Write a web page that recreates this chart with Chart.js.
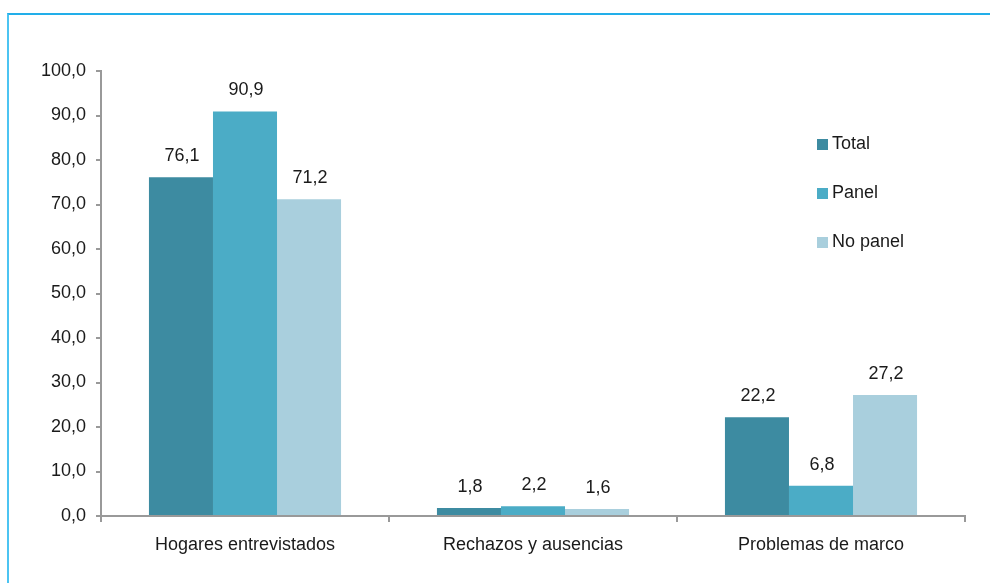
<!DOCTYPE html>
<html>
<head>
<meta charset="utf-8">
<script src="https://cdn.jsdelivr.net/npm/chart.js@4"></script>
<style>
  html, body { margin: 0; padding: 0; background: #fff; }
  #wrap { position: relative; width: 990px; height: 583px; overflow: hidden; }
  #frame {
    position: absolute; left: 7px; top: 13px; width: 1000px; height: 600px;
    border-top: 2px solid #22aee9; border-left: 2px solid #4cc4f2;
    box-sizing: border-box;
  }
  #chart { position: absolute; left: 0; top: 0; }
  #legend {
    position: absolute; left: 817px; top: 133px;
    font-family: 'Liberation Sans Narrow', 'Arial Narrow', 'Liberation Sans', sans-serif;
    font-size: 18px; color: #1a1a1a;
  }
  #legend div { height: 49px; display: flex; align-items: flex-start; }
  #legend span.box { width: 11px; height: 11px; margin: 6px 4px 0 0; }
</style>
</head>
<body>
<div id="wrap">
  <div id="frame"></div>
  <canvas id="chart" width="990" height="583"></canvas>
  <div id="legend"></div>
</div>
<script>
const categories = ['Hogares entrevistados', 'Rechazos y ausencias', 'Problemas de marco'];
const seriesNames = ['Total', 'Panel', 'No panel'];
const totalValues = [76.1, 1.8, 22.2];
const panelValues = [90.9, 2.2, 6.8];
const noPanelValues = [71.2, 1.6, 27.2];
const colors = ['#3d8ba1', '#4bacc6', '#a9cfdd'];

const FONT = "'Liberation Sans Narrow', 'Arial Narrow', 'Liberation Sans', sans-serif";

function fmt(v) {
    return v.toFixed(1).replace('.', ',');
}

// value labels above each bar
const valueLabels = {
    id: 'valueLabels',
    afterDatasetsDraw(chart) {
        const ctx = chart.ctx;
        ctx.save();
        ctx.font = '18px ' + FONT;
        ctx.fillStyle = '#1a1a1a';
        ctx.textAlign = 'center';
        ctx.textBaseline = 'bottom';
        chart.data.datasets.forEach((ds, i) => {
            chart.getDatasetMeta(i).data.forEach((bar, j) => {
                ctx.fillText(fmt(ds.data[j]), bar.x + 1, bar.y - 12);
            });
        });
        ctx.restore();
    }
};

const chart = new Chart(document.getElementById('chart'), {
    type: 'bar',
    data: {
        labels: categories,
        datasets: [
            { label: seriesNames[0], data: totalValues, backgroundColor: colors[0] },
            { label: seriesNames[1], data: panelValues, backgroundColor: colors[1] },
            { label: seriesNames[2], data: noPanelValues, backgroundColor: colors[2] }
        ]
    },
    options: {
        responsive: false,
        animation: false,
        layout: { padding: { top: 71, right: 25, left: 0, bottom: 0 } },
        datasets: { bar: { categoryPercentage: 0.667, barPercentage: 1.0 } },
        plugins: { legend: { display: false }, tooltip: { enabled: false } },
        scales: {
            x: {
                grid: { offset: true, drawOnChartArea: false, drawTicks: true, tickLength: 6, color: '#999', lineWidth: 2 },
                border: { color: '#999', width: 2 },
                ticks: { font: { family: FONT, size: 18 }, color: '#1a1a1a', padding: 12 },
                afterFit: s => { s.height = 67; }
            },
            y: {
                min: 0, max: 100,
                grid: { drawOnChartArea: false, drawTicks: true, tickLength: 5, color: '#999', lineWidth: 2 },
                border: { color: '#999', width: 2 },
                ticks: { stepSize: 10, font: { family: FONT, size: 18 }, color: '#1a1a1a', padding: 10,
                         callback: v => fmt(v) },
                afterFit: s => { s.width = 101; }
            }
        }
    },
    plugins: [valueLabels]
});

// legend built from the datasets
const legend = document.getElementById('legend');
chart.data.datasets.forEach(ds => {
    const row = document.createElement('div');
    const box = document.createElement('span');
    box.className = 'box';
    box.style.background = ds.backgroundColor;
    row.appendChild(box);
    row.appendChild(document.createTextNode(ds.label));
    legend.appendChild(row);
});
</script>
</body>
</html>
